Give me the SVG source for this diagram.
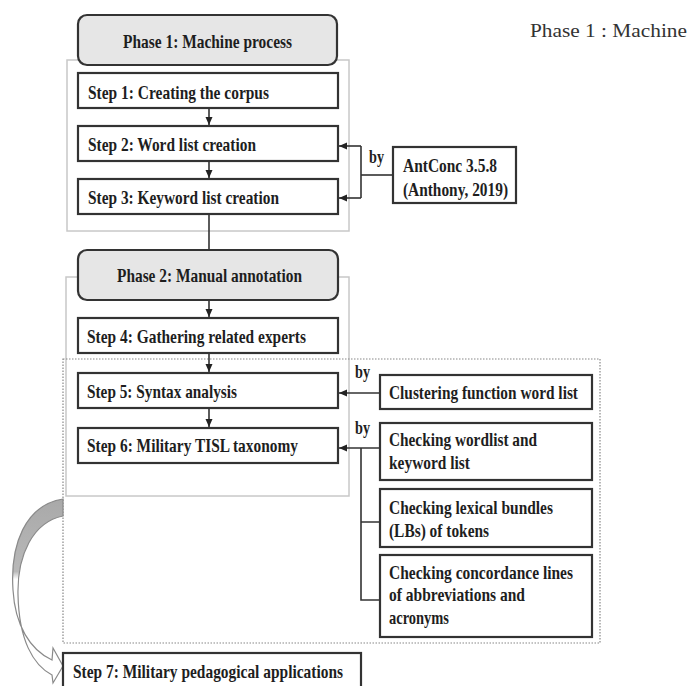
<svg xmlns="http://www.w3.org/2000/svg" width="689" height="686" viewBox="0 0 689 686">
  <style>
    .box { fill: #fff; stroke: #333; stroke-width: 2.2; }
    .phase { fill: #e6e6e6; stroke: #333; stroke-width: 2.2; }
    .frame { fill: none; stroke: #c8c8c8; stroke-width: 1.5; }
    .dot { fill: none; stroke: #888; stroke-width: 1.2; stroke-dasharray: 1.5 1.5; }
    .ln { fill: none; stroke: #333; stroke-width: 1.6; }
    .t { font-family: "Liberation Serif", "Times New Roman", serif; font-weight: bold; font-size: 19.5px; fill: #1e1e1e; }
    .cap { font-family: "Liberation Serif", "Times New Roman", serif; font-size: 19px; fill: #333; }
  </style>
  <defs>
    <marker id="ah" markerUnits="userSpaceOnUse" markerWidth="9" markerHeight="8" refX="8" refY="3.5" orient="auto">
      <path d="M0,0 L8,3.5 L0,7 Z" fill="#222"/>
    </marker>
    <linearGradient id="ribbon" gradientUnits="userSpaceOnUse" x1="0" y1="499" x2="0" y2="690">
      <stop offset="0" stop-color="#a9a9a9"/>
      <stop offset="0.38" stop-color="#b8b8b8"/>
      <stop offset="0.42" stop-color="#fff"/>
      <stop offset="1" stop-color="#fff"/>
    </linearGradient>
  </defs>

  <rect width="689" height="686" fill="#fff"/>

  <!-- caption, top right -->
  <text class="cap" x="530" y="37" textLength="157" lengthAdjust="spacingAndGlyphs">Phase 1 : Machine</text>

  <!-- phase frames -->
  <g id="frames">
    <rect class="frame" x="67" y="60" width="282" height="171"/>
    <rect class="frame" x="66" y="277" width="283" height="219"/>
    <rect class="dot" x="63" y="359" width="537" height="284"/>
  </g>

  <!-- connectors -->
  <g id="connectors">
    <line class="ln" x1="209" y1="108" x2="209" y2="125" marker-end="url(#ah)"/>
    <line class="ln" x1="209" y1="161" x2="209" y2="178" marker-end="url(#ah)"/>
    <line class="ln" x1="209" y1="214" x2="209" y2="250"/>
    <line class="ln" x1="209" y1="300" x2="209" y2="317" marker-end="url(#ah)"/>
    <line class="ln" x1="209" y1="353" x2="209" y2="372" marker-end="url(#ah)"/>
    <line class="ln" x1="209" y1="408" x2="209" y2="427" marker-end="url(#ah)"/>

    <!-- AntConc bracket to steps 2 and 3 -->
    <path class="ln" d="M361,146 L361,198"/>
    <line class="ln" x1="361" y1="146" x2="339" y2="146" marker-end="url(#ah)"/>
    <line class="ln" x1="361" y1="198" x2="339" y2="198" marker-end="url(#ah)"/>
    <line class="ln" x1="361" y1="175" x2="393" y2="175"/>
    <text class="t" x="369" y="163" textLength="15" lengthAdjust="spacingAndGlyphs">by</text>

    <!-- clustering to step 5 -->
    <line class="ln" x1="380" y1="393" x2="339" y2="393" marker-end="url(#ah)"/>
    <text class="t" x="355" y="378" textLength="15" lengthAdjust="spacingAndGlyphs">by</text>

    <!-- checking boxes to step 6 -->
    <line class="ln" x1="380" y1="448" x2="339" y2="448" marker-end="url(#ah)"/>
    <path class="ln" d="M361,448 L361,600 L380,600 M361,522 L380,522"/>
    <text class="t" x="355" y="434" textLength="15" lengthAdjust="spacingAndGlyphs">by</text>

    <!-- curved block arrow into step 7 -->
    <path d="M63,499 C25,505 10,545 13,590 C15,625 30,650 52,660 L53,648 L63,666 L53,683 L52,675 C33,665 19,640 18,595 C17,555 33,522 63,516 Z"
          fill="url(#ribbon)" stroke="#8a8a8a" stroke-width="1.2"/>
  </g>

  <!-- phase 1 -->
  <g id="phase1">
    <rect class="phase" x="78" y="15" width="259" height="50" rx="9"/>
    <text class="t" x="123" y="48" textLength="169" lengthAdjust="spacingAndGlyphs">Phase 1: Machine process</text>
  </g>
  <g id="step1">
    <rect class="box" x="78" y="73" width="260" height="35"/>
    <text class="t" x="88" y="99" textLength="181" lengthAdjust="spacingAndGlyphs">Step 1: Creating the corpus</text>
  </g>
  <g id="step2">
    <rect class="box" x="78" y="126" width="260" height="35"/>
    <text class="t" x="88" y="151" textLength="168" lengthAdjust="spacingAndGlyphs">Step 2: Word list creation</text>
  </g>
  <g id="step3">
    <rect class="box" x="78" y="179" width="260" height="35"/>
    <text class="t" x="88" y="204" textLength="191" lengthAdjust="spacingAndGlyphs">Step 3: Keyword list creation</text>
  </g>
  <g id="antconc">
    <rect class="box" x="393" y="147" width="123" height="56"/>
    <text class="t" x="403" y="172" textLength="94" lengthAdjust="spacingAndGlyphs">AntConc 3.5.8</text>
    <text class="t" x="403" y="196" textLength="105" lengthAdjust="spacingAndGlyphs">(Anthony, 2019)</text>
  </g>

  <!-- phase 2 -->
  <g id="phase2">
    <rect class="phase" x="78" y="250" width="260" height="50" rx="9"/>
    <text class="t" x="117" y="282" textLength="185" lengthAdjust="spacingAndGlyphs">Phase 2: Manual annotation</text>
  </g>
  <g id="step4">
    <rect class="box" x="78" y="318" width="260" height="35"/>
    <text class="t" x="87" y="343" textLength="219" lengthAdjust="spacingAndGlyphs">Step 4: Gathering related experts</text>
  </g>
  <g id="step5">
    <rect class="box" x="78" y="373" width="260" height="35"/>
    <text class="t" x="87" y="398" textLength="150" lengthAdjust="spacingAndGlyphs">Step 5: Syntax analysis</text>
  </g>
  <g id="step6">
    <rect class="box" x="78" y="428" width="260" height="35"/>
    <text class="t" x="87" y="452" textLength="211" lengthAdjust="spacingAndGlyphs">Step 6: Military TISL taxonomy</text>
  </g>
  <g id="clustering">
    <rect class="box" x="380" y="375" width="212" height="34"/>
    <text class="t" x="389" y="399" textLength="189" lengthAdjust="spacingAndGlyphs">Clustering function word list</text>
  </g>
  <g id="check-wordlist">
    <rect class="box" x="380" y="423" width="212" height="57"/>
    <text class="t" x="389" y="446" textLength="148" lengthAdjust="spacingAndGlyphs">Checking wordlist and</text>
    <text class="t" x="389" y="469" textLength="81" lengthAdjust="spacingAndGlyphs">keyword list</text>
  </g>
  <g id="check-bundles">
    <rect class="box" x="380" y="489" width="212" height="58"/>
    <text class="t" x="389" y="514" textLength="164" lengthAdjust="spacingAndGlyphs">Checking lexical bundles</text>
    <text class="t" x="389" y="537" textLength="100" lengthAdjust="spacingAndGlyphs">(LBs) of tokens</text>
  </g>
  <g id="check-concordance">
    <rect class="box" x="380" y="555" width="212" height="82"/>
    <text class="t" x="389" y="579" textLength="184" lengthAdjust="spacingAndGlyphs">Checking concordance lines</text>
    <text class="t" x="389" y="601" textLength="136" lengthAdjust="spacingAndGlyphs">of abbreviations and</text>
    <text class="t" x="389" y="624" textLength="60" lengthAdjust="spacingAndGlyphs">acronyms</text>
  </g>

  <!-- step 7 -->
  <g id="step7">
    <rect class="box" x="63" y="653" width="298" height="50"/>
    <text class="t" x="73" y="678" textLength="270" lengthAdjust="spacingAndGlyphs">Step 7: Military pedagogical applications</text>
  </g>
</svg>
